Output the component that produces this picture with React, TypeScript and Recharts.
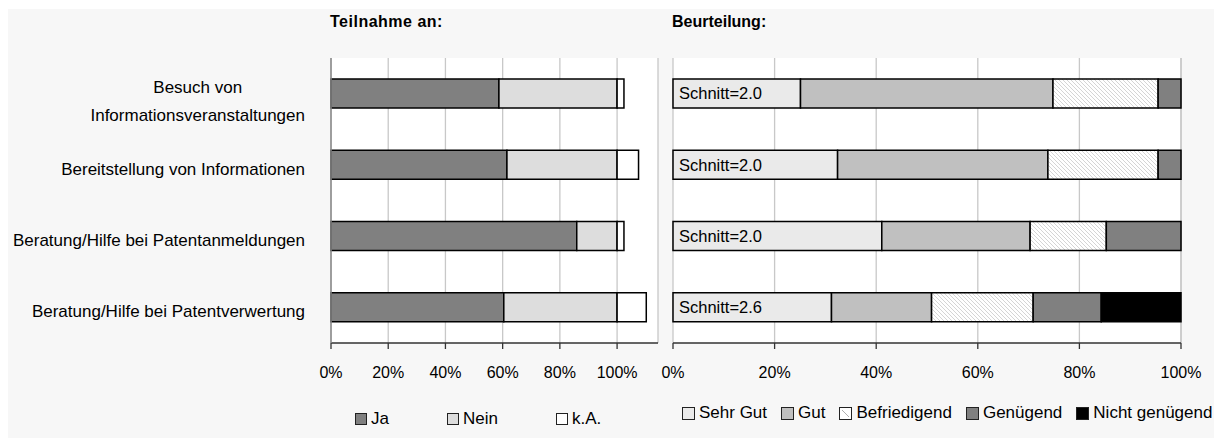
import React from 'react';
import { BarChart, Bar, XAxis, YAxis, CartesianGrid, LabelList } from 'recharts';

const FONT = "'Liberation Sans', Arial, sans-serif";

const categories = [
  'Besuch von\nInformationsveranstaltungen',
  'Bereitstellung von Informationen',
  'Beratung/Hilfe bei Patentanmeldungen',
  'Beratung/Hilfe bei Patentverwertung',
];

// Teilnahme an (%)
const ja = [58.7, 61.5, 85.9, 60.4];
const nein = [41.3, 38.5, 14.1, 39.6];
const ka = [2.4, 7.5, 2.4, 10.2];

// Beurteilung (%)
const sehrGut = [25.1, 32.4, 41.1, 31.2];
const gut = [49.7, 41.4, 29.2, 19.7];
const befriedigend = [20.7, 21.7, 15.0, 20.0];
const genuegend = [4.5, 4.5, 14.7, 13.4];
const nichtGenuegend = [0, 0, 0, 15.7];
const schnitt = ['2.0', '2.0', '2.0', '2.6'];

const percentTicks = [0, 20, 40, 60, 80, 100];
const leftDomainMax = 114.3;

const leftSeries = [
  { key: 'ja', name: 'Ja', fill: '#808080' },
  { key: 'nein', name: 'Nein', fill: '#dddddd' },
  { key: 'ka', name: 'k.A.', fill: '#ffffff' },
];
const rightSeries = [
  { key: 'sehrGut', name: 'Sehr Gut', fill: '#eaeaea' },
  { key: 'gut', name: 'Gut', fill: '#c0c0c0' },
  { key: 'befriedigend', name: 'Befriedigend', fill: 'url(#hatch)' },
  { key: 'genuegend', name: 'Genügend', fill: '#808080' },
  { key: 'nichtGenuegend', name: 'Nicht genügend', fill: '#000000' },
];

const leftData = categories.map((name, i) => ({ name, ja: ja[i], nein: nein[i], ka: ka[i] }));
const rightData = categories.map((name, i) => ({
  name,
  sehrGut: sehrGut[i],
  gut: gut[i],
  befriedigend: befriedigend[i],
  genuegend: genuegend[i],
  nichtGenuegend: nichtGenuegend[i],
  label: `Schnitt=${schnitt[i]}`,
}));

const LABEL_SIZE = 17;

let measureCtx: CanvasRenderingContext2D | null = null;
function textWidth(t: string): number {
  if (typeof document === 'undefined') return t.length * 8.5;
  if (!measureCtx) measureCtx = document.createElement('canvas').getContext('2d');
  if (!measureCtx) return t.length * 8.5;
  measureCtx.font = `${LABEL_SIZE}px ${FONT}`;
  return measureCtx.measureText(t).width;
}

const CategoryTick = (props: any) => {
  const { x, y, payload } = props;
  const lines: string[] = String(payload.value).split('\n');
  if (lines.length === 1) {
    return (
      <text x={x} y={y + 10} textAnchor="end" fontSize={LABEL_SIZE} fontFamily={FONT} fill="#000">
        {lines[0]}
      </text>
    );
  }
  const maxW = Math.max(...lines.map(textWidth));
  const cx = x - maxW / 2;
  return (
    <g>
      {lines.map((l, i) => (
        <text key={i} x={cx} y={y - 0.5 + i * 28} textAnchor="middle" fontSize={LABEL_SIZE} fontFamily={FONT} fill="#000">
          {l}
        </text>
      ))}
    </g>
  );
};

const tickStyle = { fontSize: 16, fontFamily: FONT, fill: '#000' };
const frame = { stroke: '#8a8a8a', strokeWidth: 1.5 };
const baseAxis = { stroke: '#333', strokeWidth: 1.3 };

const Swatch = ({ fill, size }: { fill: string; size: number }) => (
  <svg width={size} height={size} style={{ display: 'block', marginRight: 4 }}>
    <rect x={0.5} y={0.5} width={size - 1} height={size - 1} fill={fill === 'url(#hatch)' ? '#fff' : fill} stroke="#222" strokeWidth={1} />
    {fill === 'url(#hatch)' && <line x1={3} y1={3} x2={size - 3} y2={size - 3} stroke="#b0b0b0" strokeWidth={1} />}
  </svg>
);

const LegendRow = ({ items, gap, size, style }: { items: { name: string; fill: string }[]; gap: number; size: number; style: React.CSSProperties }) => (
  <div style={{ position: 'absolute', display: 'flex', alignItems: 'center', fontSize: LABEL_SIZE, lineHeight: '16px', fontFamily: FONT, ...style }}>
    {items.map((it, i) => (
      <div key={it.name} style={{ display: 'flex', alignItems: 'center', marginRight: i < items.length - 1 ? gap : 0 }}>
        <Swatch fill={it.fill} size={size} />
        <span style={{ whiteSpace: 'nowrap' }}>{it.name}</span>
      </div>
    ))}
  </div>
);

export default function App() {
  return (
    <div style={{ position: 'relative', top: 1, width: 1210, height: 430, background: '#f7f7f7', fontFamily: FONT, color: '#000' }}>
      <div style={{ position: 'absolute', left: 322, top: 5, fontSize: 16, lineHeight: '16px', fontWeight: 'bold', letterSpacing: 0.5 }}>Teilnahme an:</div>
      <div style={{ position: 'absolute', left: 664, top: 5, fontSize: 16, lineHeight: '16px', fontWeight: 'bold' }}>Beurteilung:</div>

      <div style={{ position: 'absolute', left: 0, top: 0 }}>
        <BarChart width={660} height={400} data={leftData} layout="vertical" margin={{ top: 49, right: 10, bottom: 26, left: 0 }} barSize={29}>
          <CartesianGrid horizontal={false} stroke="#c8c8c8" strokeWidth={1.3} fill="#ffffff" />
          <XAxis type="number" domain={[0, leftDomainMax]} ticks={percentTicks} tickFormatter={(v: number) => `${v}%`} tick={tickStyle} tickSize={6} tickMargin={18} height={40} axisLine={baseAxis} tickLine={baseAxis} interval={0} />
          <XAxis xAxisId="top" orientation="top" type="number" domain={[0, leftDomainMax]} tick={false} tickLine={false} axisLine={frame} height={0} />
          <YAxis type="category" dataKey="name" width={323} tick={<CategoryTick />} tickLine={false} tickMargin={20} axisLine={frame} interval={0} />
          <YAxis yAxisId="right" orientation="right" type="category" dataKey="name" width={0} tick={false} tickLine={false} axisLine={frame} />
          {leftSeries.map((s) => (
            <Bar key={s.key} dataKey={s.key} name={s.name} stackId="a" fill={s.fill} stroke="#000" strokeWidth={1.5} isAnimationActive={false} />
          ))}
        </BarChart>
      </div>

      <div style={{ position: 'absolute', left: 600, top: 0 }}>
        <BarChart width={600} height={400} data={rightData} layout="vertical" margin={{ top: 49, right: 27, bottom: 26, left: 65 }} barSize={29}>
          <defs>
            <pattern id="hatch" patternUnits="userSpaceOnUse" width={4} height={4}>
              <rect width={4} height={4} fill="#ffffff" />
              <path d="M0,0 L4,4 M-1,3 L1,5 M3,-1 L5,1" stroke="#d0d0d0" strokeWidth={0.9} />
            </pattern>
          </defs>
          <CartesianGrid horizontal={false} stroke="#c8c8c8" strokeWidth={1.3} fill="#ffffff" />
          <XAxis type="number" domain={[0, 100]} ticks={percentTicks} tickFormatter={(v: number) => `${v}%`} tick={tickStyle} tickSize={6} tickMargin={18} height={40} axisLine={baseAxis} tickLine={baseAxis} interval={0} />
          <XAxis xAxisId="top" orientation="top" type="number" domain={[0, 100]} tick={false} tickLine={false} axisLine={frame} height={0} />
          <YAxis type="category" dataKey="name" width={0} tick={false} tickLine={false} axisLine={frame} />
          <YAxis yAxisId="right" orientation="right" type="category" dataKey="name" width={0} tick={false} tickLine={false} axisLine={frame} />
          {rightSeries.map((s, i) => (
            <Bar key={s.key} dataKey={s.key} name={s.name} stackId="a" fill={s.fill} stroke="#000" strokeWidth={1.5} isAnimationActive={false}>
              {i === 0 && <LabelList dataKey="label" position="insideLeft" offset={6} fill="#000" fontSize={16.5} fontFamily={FONT} />}
            </Bar>
          ))}
        </BarChart>
      </div>

      <LegendRow items={leftSeries} gap={58} size={12} style={{ left: 347, top: 402 }} />
      <LegendRow items={rightSeries} gap={14} size={13} style={{ left: 674, top: 396 }} />
    </div>
  );
}
